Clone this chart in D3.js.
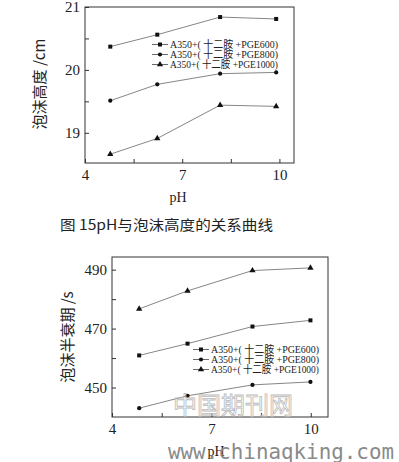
<!DOCTYPE html>
<html>
<head>
<meta charset="utf-8">
<script src="https://cdn.jsdelivr.net/npm/d3@7"></script>
<style>
    body { margin: 0; background: #fff; }
    svg { display: block; }
    .tick text { font-family: "Liberation Serif", serif; font-size: 15px; fill: #222; }
    .domain { display: none; }
    .tick line { stroke: #333; }
</style>
</head>
<body>
<svg id="chart" width="399" height="462"></svg>
<script>
// series names, shared by both panels
var seriesNames = ['A350+( 十二胺 +PGE600)', 'A350+( 十二胺 +PGE800)', 'A350+( 十二胺 +PGE1000)'];
var seriesShapes = ['square', 'circle', 'triangle'];

// panel 1: foam height (cm)
var phTop = [4.78, 6.23, 8.17, 9.9];
var heightPGE600 = [20.37, 20.56, 20.84, 20.81];
var heightPGE800 = [19.51, 19.77, 19.94, 19.96];
var heightPGE1000 = [18.66, 18.91, 19.44, 19.42];

// panel 2: foam half-life (s)
var phBottom = [4.82, 6.28, 8.24, 9.99];
var halfPGE600 = [460.9, 464.9, 470.7, 472.8];
var halfPGE800 = [443.0, 447.2, 450.9, 451.9];
var halfPGE1000 = [476.7, 482.8, 489.7, 490.6];

var xTicks = [4, 5.5, 7, 8.5, 10];
var xLabels = [4, 7, 10];
var yTicksTop = [19, 19.5, 20, 20.5, 21];
var yLabelsTop = [19, 20, 21];
var yTicksBottom = [450, 460, 470, 480, 490];
var yLabelsBottom = [450, 470, 490];

var svg = d3.select('#chart');

function symbolFor(shape) {
    var t = shape === 'square' ? d3.symbolSquare : shape === 'circle' ? d3.symbolCircle : d3.symbolTriangle;
    var size = shape === 'square' ? 16 : shape === 'circle' ? 14 : 17;
    return d3.symbol().type(t).size(size)();
}

function drawPanel(cfg) {
    var g = svg.append('g');
    var x = d3.scaleLinear().domain(cfg.xDomain).range([cfg.left, cfg.right]);
    var y = d3.scaleLinear().domain(cfg.yDomain).range([cfg.bottom, cfg.top]);

    g.append('rect')
        .attr('x', cfg.left).attr('y', cfg.top)
        .attr('width', cfg.right - cfg.left).attr('height', cfg.bottom - cfg.top)
        .attr('fill', 'none').attr('stroke', '#333').attr('stroke-width', 1);

    g.append('g')
        .attr('transform', 'translate(0,' + cfg.bottom + ')')
        .call(d3.axisBottom(x).tickValues(xTicks).tickSize(-4).tickPadding(6)
            .tickFormat(function(d) { return xLabels.indexOf(d) >= 0 ? d : ''; }));

    g.append('g')
        .attr('transform', 'translate(' + cfg.left + ',0)')
        .call(d3.axisLeft(y).tickValues(cfg.yTicks).tickSize(-4).tickPadding(5)
            .tickFormat(function(d) { return cfg.yLabels.indexOf(d) >= 0 ? d : ''; }));

    var line = d3.line().x(function(d) { return x(d[0]); }).y(function(d) { return y(d[1]); });

    cfg.series.forEach(function(vals, i) {
        var pts = cfg.ph.map(function(p, j) { return [p, vals[j]]; });
        g.append('path').datum(pts)
            .attr('d', line).attr('fill', 'none')
            .attr('stroke', '#666').attr('stroke-width', 0.8);
        g.selectAll(null).data(pts).enter().append('path')
            .attr('d', symbolFor(seriesShapes[i]))
            .attr('transform', function(d) { return 'translate(' + x(d[0]) + ',' + y(d[1]) + ')'; })
            .attr('fill', '#111');
    });

    // legend
    seriesNames.forEach(function(name, i) {
        var ly = cfg.legendY + i * 10;
        g.append('line')
            .attr('x1', cfg.legendX).attr('x2', cfg.legendX + 16)
            .attr('y1', ly).attr('y2', ly)
            .attr('stroke', '#444').attr('stroke-width', 0.8);
        g.append('path').attr('d', symbolFor(seriesShapes[i]))
            .attr('transform', 'translate(' + (cfg.legendX + 8) + ',' + ly + ')')
            .attr('fill', '#111');
        g.append('text')
            .attr('x', cfg.legendX + 18).attr('y', ly + 3.5)
            .attr('font-family', '"Liberation Serif", "Noto Sans CJK SC", serif')
            .attr('font-size', 10.5).attr('fill', '#222')
            .attr('textLength', 108).attr('lengthAdjust', 'spacingAndGlyphs')
            .text(name);
    });

    g.append('text')
        .attr('x', cfg.xTitleX).attr('y', cfg.xTitleY)
        .attr('text-anchor', 'middle')
        .attr('font-family', '"Liberation Serif", serif').attr('font-size', 14).attr('fill', '#222')
        .text('pH');

    g.append('text')
        .attr('transform', 'translate(' + cfg.yTitleX + ',' + cfg.yTitleY + ') rotate(-90)')
        .attr('text-anchor', 'middle')
        .attr('font-family', '"Noto Sans CJK SC", sans-serif').attr('font-size', 15).attr('fill', '#222')
        .text(cfg.yTitle);
}

drawPanel({
    left: 85, right: 294, top: 7, bottom: 163,
    xDomain: [4, 10.45], yDomain: [18.52, 21],
    yTicks: yTicksTop, yLabels: yLabelsTop,
    ph: phTop, series: [heightPGE600, heightPGE800, heightPGE1000],
    legendX: 152, legendY: 44.5,
    xTitleX: 178, xTitleY: 202,
    yTitleX: 45, yTitleY: 84, yTitle: '泡沫高度 /cm'
});

drawPanel({
    left: 112, right: 328, top: 257, bottom: 417,
    xDomain: [4, 10.52], yDomain: [440, 494.3],
    yTicks: yTicksBottom, yLabels: yLabelsBottom,
    ph: phBottom, series: [halfPGE600, halfPGE800, halfPGE1000],
    legendX: 193, legendY: 349.5,
    xTitleX: 216, xTitleY: 456,
    yTitleX: 73, yTitleY: 337, yTitle: '泡沫半衰期 /s'
});

// caption
svg.append('text')
    .attr('x', 60).attr('y', 230)
    .attr('font-family', '"Noto Sans CJK SC", sans-serif').attr('font-size', 14).attr('fill', '#222')
    .attr('textLength', 213).attr('lengthAdjust', 'spacingAndGlyphs')
    .text('图 15pH与泡沫高度的关系曲线');

// watermarks
svg.append('text')
    .attr('x', 173).attr('y', 414)
    .attr('font-family', '"Noto Sans CJK SC", sans-serif').attr('font-size', 24)
    .attr('fill', 'none').attr('stroke', '#bbb').attr('stroke-width', 0.8)
    .attr('textLength', 120).attr('lengthAdjust', 'spacingAndGlyphs')
    .text('中国期刊网');

svg.append('text')
    .attr('x', 168).attr('y', 459)
    .attr('font-family', '"DejaVu Sans Mono", monospace').attr('font-size', 21)
    .attr('fill', '#8a8a8a')
    .attr('textLength', 226).attr('lengthAdjust', 'spacingAndGlyphs')
    .text('www.chinaqking.com');
</script>
</body>
</html>
